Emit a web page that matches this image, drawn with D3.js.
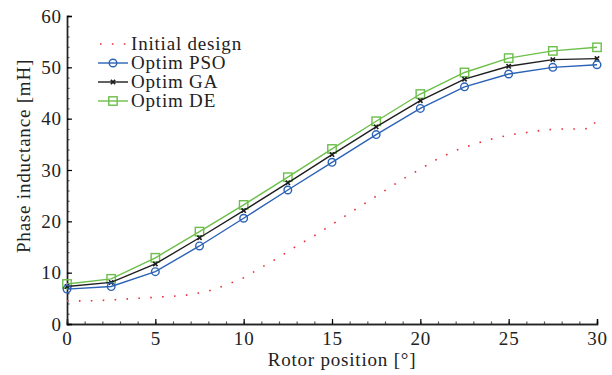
<!DOCTYPE html>
<html>
<head>
<meta charset="utf-8">
<script src="https://cdn.jsdelivr.net/npm/d3@7"></script>
<style>
  body { margin: 0; background: #fff; }
  svg text { font-family: "Liberation Serif", "Times New Roman", serif; font-size: 19px; fill: #222; letter-spacing: 0.8px; }
</style>
</head>
<body>
<svg id="chart"></svg>
<script>
// rotor position of the optimised designs
var positions = [0, 2.5, 5, 7.5, 10, 12.5, 15, 17.5, 20, 22.5, 25, 27.5, 30];
var psoValues = [6.8, 7.3, 10.2, 15.2, 20.6, 26.1, 31.5, 36.9, 42.0, 46.2, 48.7, 50.0, 50.5];
var gaValues  = [7.3, 8.1, 11.7, 16.8, 22.1, 27.5, 33.0, 38.4, 43.5, 47.7, 50.2, 51.5, 51.7];
var deValues  = [7.8, 8.8, 12.9, 18.0, 23.2, 28.6, 34.1, 39.5, 44.8, 49.0, 51.8, 53.2, 53.9];

// initial design (finer sampling)
var initPositions = [0, 1, 2, 3, 4, 5, 6, 7, 8, 9, 10, 11, 12, 13, 14, 15, 16, 17, 18, 19, 20, 21, 22, 23, 24, 25, 26, 27, 28, 29, 29.7, 30];
var initValues = [4.5, 4.5, 4.6, 4.8, 5.0, 5.2, 5.4, 5.7, 6.4, 7.6, 9.0, 11.0, 13.0, 15.2, 17.2, 19.4, 21.6, 23.8, 26.0, 28.2, 30.2, 32.2, 33.8, 35.0, 36.0, 36.8, 37.3, 37.8, 38.0, 38.0, 38.1, 40.0];

var xTicks = [0, 5, 10, 15, 20, 25, 30];
var yTicks = [0, 10, 20, 30, 40, 50, 60];
var legendNames = ['Initial design', 'Optim PSO', 'Optim GA', 'Optim DE'];

var width = 612, height = 375;
var plotLeft = 67, plotRight = 597, plotTop = 16, plotBottom = 324;

var svg = d3.select('#chart').attr('width', width).attr('height', height);

var x = d3.scaleLinear().domain([0, 30]).range([plotLeft, plotRight]);
var y = d3.scaleLinear().domain([0, 60]).range([plotBottom, plotTop]);

// axes with inward ticks
var xMinor = d3.range(0, 31, 1);
var yMinor = d3.range(0, 61, 2);

var gx = svg.append('g').attr('transform', 'translate(0,' + plotBottom + ')');
gx.call(d3.axisBottom(x).tickValues(xMinor).tickSize(-2.5).tickFormat(''));
gx.selectAll('.tick line').attr('stroke', '#555');
var gx2 = svg.append('g').attr('transform', 'translate(0,' + plotBottom + ')');
gx2.call(d3.axisBottom(x).tickValues(xTicks).tickSize(-5).tickPadding(8).tickFormat(d3.format('d')));

var gy = svg.append('g').attr('transform', 'translate(' + plotLeft + ',0)');
gy.call(d3.axisLeft(y).tickValues(yMinor).tickSize(-2.5).tickFormat(''));
gy.selectAll('.tick line').attr('stroke', '#555');
var gy2 = svg.append('g').attr('transform', 'translate(' + plotLeft + ',0)');
gy2.call(d3.axisLeft(y).tickValues(yTicks).tickSize(-5).tickPadding(7).tickFormat(d3.format('d')));

svg.selectAll('.domain').attr('stroke', '#222').attr('stroke-width', 1.4);
svg.selectAll('.tick text').attr('font-size', null).attr('font-family', null).style('font-size', '19px');
gx2.selectAll('.tick text').attr('dy', '0.71em');
gy2.selectAll('.tick text').attr('dx', '0.1em');
svg.selectAll('.tick line').attr('stroke-width', 1.2);

// axis titles
svg.append('text')
  .attr('x', (plotLeft + plotRight) / 2 + 10)
  .attr('y', 366)
  .attr('text-anchor', 'middle')
  .text('Rotor position [°]');

svg.append('text')
  .attr('transform', 'translate(30,156) rotate(-90)')
  .attr('text-anchor', 'middle')
  .text('Phase inductance [mH]');

var line = d3.line()
  .x(function (d) { return x(d[0]); })
  .y(function (d) { return y(d[1]); });

// initial design, dotted red
svg.append('path')
  .datum(d3.zip(initPositions, initValues))
  .attr('d', line)
  .attr('fill', 'none')
  .attr('stroke', '#e8303a')
  .attr('stroke-width', 1.6)
  .attr('stroke-dasharray', '1.6,10.3');

var series = [
  { values: psoValues, color: '#2b62b6', marker: 'circle' },
  { values: gaValues, color: '#1e1e1e', marker: 'x' },
  { values: deValues, color: '#6cbf4a', marker: 'square' }
];

function drawMarker(g, type, color) {
  if (type === 'circle') {
    g.append('circle').attr('r', 3.8).attr('fill', 'none').attr('stroke', color).attr('stroke-width', 1.4);
  } else if (type === 'square') {
    g.append('rect').attr('x', -4.2).attr('y', -4.2).attr('width', 8.4).attr('height', 8.4)
      .attr('fill', 'none').attr('stroke', color).attr('stroke-width', 1.4);
  } else {
    g.append('path').attr('d', d3.symbol().type(d3.symbolX).size(14)).attr('fill', 'none')
      .attr('stroke', color).attr('stroke-width', 1.6);
  }
}

// draw green first so the others lie on top
[2, 1, 0].forEach(function (k) {
  var s = series[k];
  var pts = d3.zip(positions, s.values);
  svg.append('path')
    .datum(pts)
    .attr('d', line)
    .attr('fill', 'none')
    .attr('stroke', s.color)
    .attr('stroke-width', 1.4);
  svg.selectAll(null)
    .data(pts)
    .enter()
    .append('g')
    .attr('transform', function (d) { return 'translate(' + x(d[0]) + ',' + y(d[1]) + ')'; })
    .each(function () { drawMarker(d3.select(this), s.marker, s.color); });
});

// legend
var legend = svg.append('g').attr('transform', 'translate(98,44)');
legendNames.forEach(function (name, i) {
  var row = legend.append('g').attr('transform', 'translate(0,' + (i * 19) + ')');
  if (i === 0) {
    row.append('line').attr('x1', 2).attr('x2', 30).attr('y1', 0).attr('y2', 0)
      .attr('stroke', '#e8303a').attr('stroke-width', 1.6).attr('stroke-dasharray', '1.6,10.3');
  } else {
    var s = series[i - 1];
    row.append('line').attr('x1', 0).attr('x2', 30).attr('y1', 0).attr('y2', 0)
      .attr('stroke', s.color).attr('stroke-width', 1.4);
    drawMarker(row.append('g').attr('transform', 'translate(15,0)'), s.marker, s.color);
  }
  row.append('text').attr('x', 33).attr('y', 6).text(name);
});
</script>
</body>
</html>
